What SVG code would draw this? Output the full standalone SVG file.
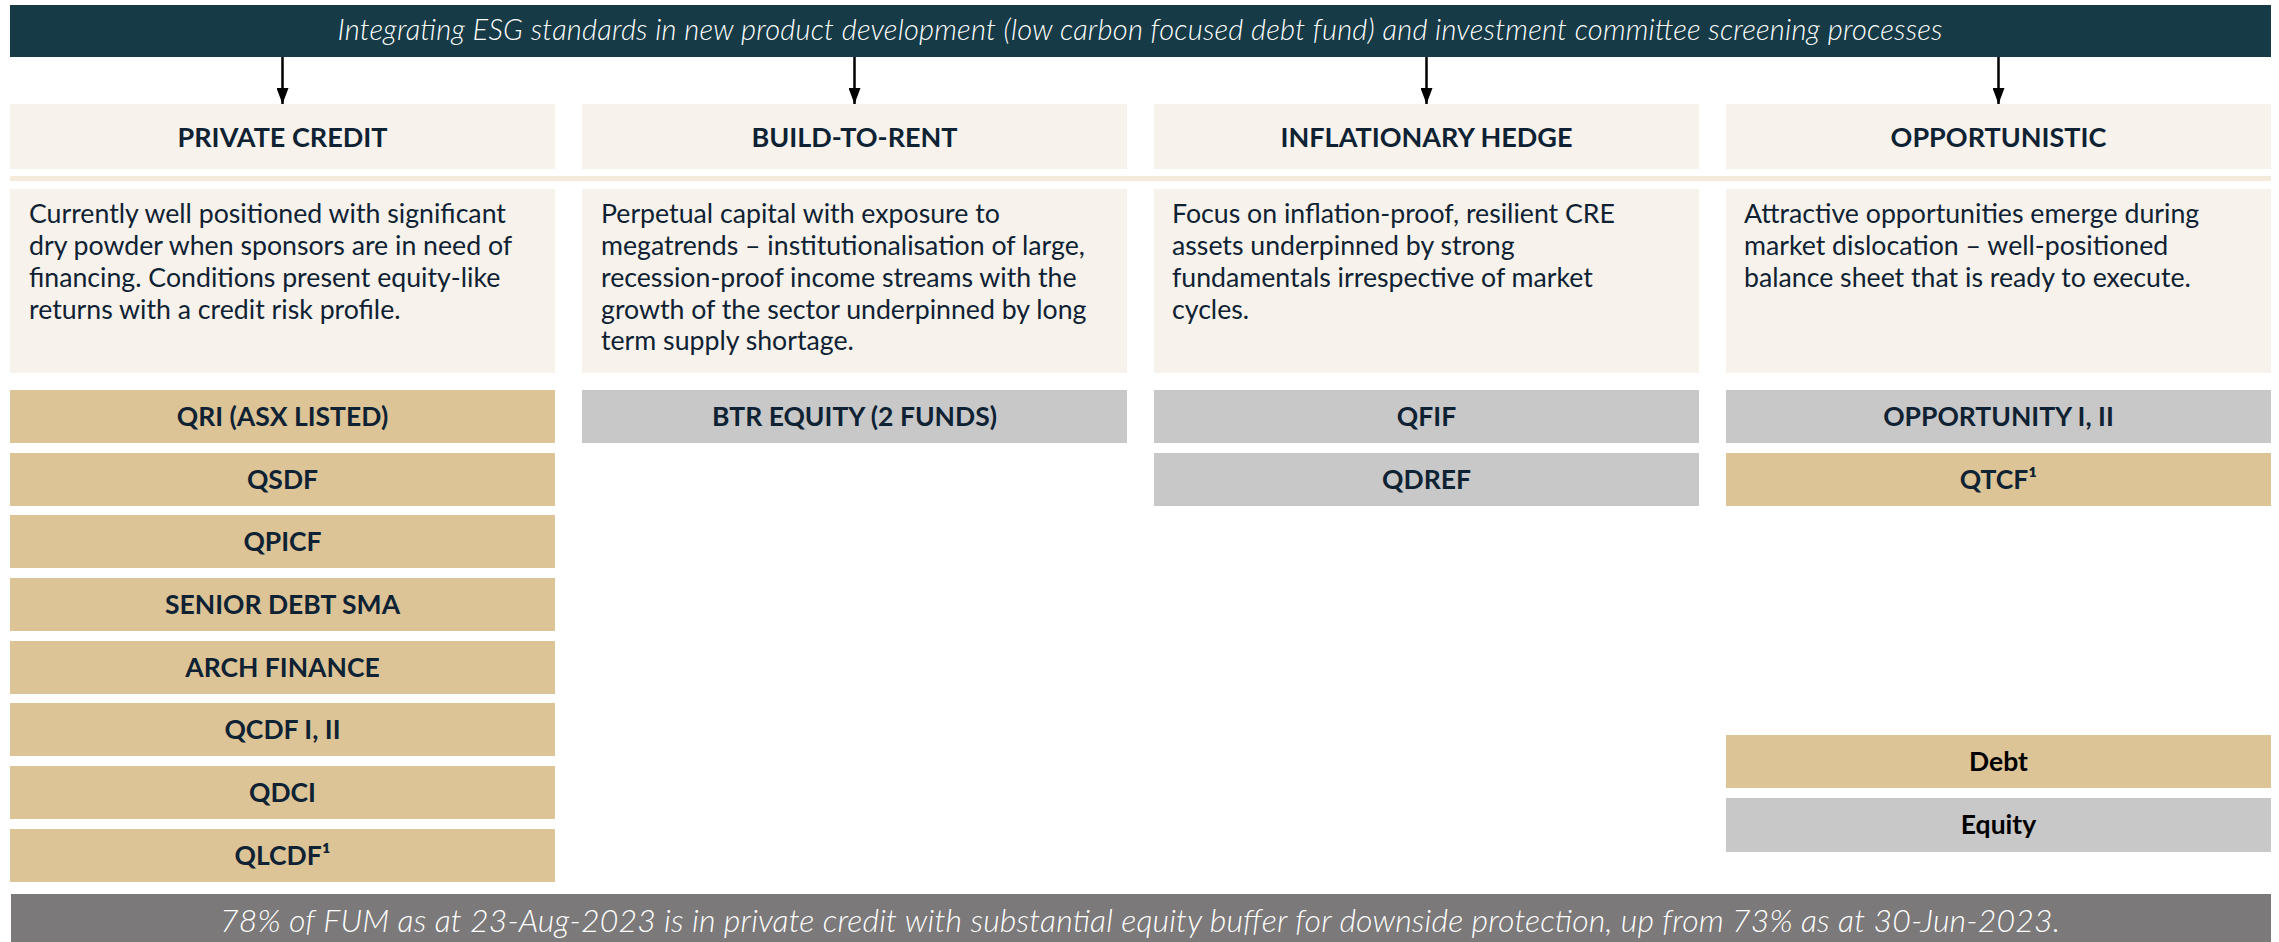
<svg xmlns="http://www.w3.org/2000/svg" width="2279" height="942" viewBox="0 0 2279 942">
<defs>
<style>
.f{font-family:Lato,"Liberation Sans",sans-serif}
.hdr{fill:#163a46}
.hdrtxt{font-style:italic;font-weight:300;font-size:29px;fill:#ffffff;text-anchor:middle}
.cap{fill:#f7f2ec}
.captxt{font-weight:700;font-size:27px;fill:#0e2233;text-anchor:middle}
.desctxt{font-size:26.7px;fill:#0e2233}
.debt{fill:#dcc497}
.eq{fill:#c8c8c8}
.fund{font-weight:700;font-size:26.5px;fill:#0e2233;text-anchor:middle}
.leg{font-weight:700;font-size:26.5px;fill:#000000;text-anchor:middle}
.foot{fill:#7b797a}
.foottxt{font-style:italic;font-weight:300;font-size:32px;fill:#ffffff;text-anchor:middle}
.conn{stroke:#000000;stroke-width:2.5;fill:none;marker-end:url(#ah)}
</style>
<marker id="ah" viewBox="0 0 16 12" refX="16" refY="6" markerWidth="16" markerHeight="12" markerUnits="userSpaceOnUse" orient="auto">
<path d="M0,0 L16,6 L0,12 z" fill="#000000"/>
</marker>
</defs>
<rect width="2279" height="942" fill="#ffffff"/>

<g id="header">
<rect class="hdr" x="10" y="5" width="2261" height="52"/>
<text class="f hdrtxt" x="1140" y="40" textLength="1605" lengthAdjust="spacing">Integrating ESG standards in new product development (low carbon focused debt fund) and investment committee screening processes</text>
</g>

<g id="connectors">
<line class="conn" x1="282.5" y1="57" x2="282.5" y2="104"/>
<line class="conn" x1="854.5" y1="57" x2="854.5" y2="104"/>
<line class="conn" x1="1426.5" y1="57" x2="1426.5" y2="104"/>
<line class="conn" x1="1998.5" y1="57" x2="1998.5" y2="104"/>
</g>

<g id="separator">
<rect x="10" y="176" width="2261" height="5" fill="#f3ead9"/>
</g>

<g id="col-private-credit">
<rect class="cap" x="10" y="104" width="545" height="65"/>
<text class="f captxt" x="282.5" y="147">PRIVATE CREDIT</text>
</g>
<g id="col-build-to-rent">
<rect class="cap" x="582" y="104" width="545" height="65"/>
<text class="f captxt" x="854.5" y="147">BUILD-TO-RENT</text>
</g>
<g id="col-inflationary-hedge">
<rect class="cap" x="1154" y="104" width="545" height="65"/>
<text class="f captxt" x="1426.5" y="147">INFLATIONARY HEDGE</text>
</g>
<g id="col-opportunistic">
<rect class="cap" x="1726" y="104" width="545" height="65"/>
<text class="f captxt" x="1998.5" y="147">OPPORTUNISTIC</text>
</g>

<g id="desc-private-credit">
<rect class="cap" x="10" y="189" width="545" height="184"/>
<text class="f desctxt">
<tspan x="29" y="223">Currently well positioned with significant</tspan>
<tspan x="29" y="255">dry powder when sponsors are in need of</tspan>
<tspan x="29" y="287">financing. Conditions present equity-like</tspan>
<tspan x="29" y="318.5">returns with a credit risk profile.</tspan>
</text>
</g>
<g id="desc-build-to-rent">
<rect class="cap" x="582" y="189" width="545" height="184"/>
<text class="f desctxt">
<tspan x="601" y="223">Perpetual capital with exposure to</tspan>
<tspan x="601" y="255">megatrends – institutionalisation of large,</tspan>
<tspan x="601" y="287">recession-proof income streams with the</tspan>
<tspan x="601" y="318.5">growth of the sector underpinned by long</tspan>
<tspan x="601" y="350">term supply shortage.</tspan>
</text>
</g>
<g id="desc-inflationary-hedge">
<rect class="cap" x="1154" y="189" width="545" height="184"/>
<text class="f desctxt">
<tspan x="1172" y="223">Focus on inflation-proof, resilient CRE</tspan>
<tspan x="1172" y="255">assets underpinned by strong</tspan>
<tspan x="1172" y="287">fundamentals irrespective of market</tspan>
<tspan x="1172" y="318.5">cycles.</tspan>
</text>
</g>
<g id="desc-opportunistic">
<rect class="cap" x="1726" y="189" width="545" height="184"/>
<text class="f desctxt">
<tspan x="1744" y="223">Attractive opportunities emerge during</tspan>
<tspan x="1744" y="255">market dislocation – well-positioned</tspan>
<tspan x="1744" y="287">balance sheet that is ready to execute.</tspan>
</text>
</g>

<g id="fund-qri"><rect class="debt" x="10" y="390" width="545" height="53"/><text class="f fund" x="282.5" y="426">QRI (ASX LISTED)</text></g>
<g id="fund-qsdf"><rect class="debt" x="10" y="453" width="545" height="53"/><text class="f fund" x="282.5" y="489">QSDF</text></g>
<g id="fund-qpicf"><rect class="debt" x="10" y="515" width="545" height="53"/><text class="f fund" x="282.5" y="551">QPICF</text></g>
<g id="fund-senior-debt-sma"><rect class="debt" x="10" y="578" width="545" height="53"/><text class="f fund" x="282.5" y="614">SENIOR DEBT SMA</text></g>
<g id="fund-arch-finance"><rect class="debt" x="10" y="641" width="545" height="53"/><text class="f fund" x="282.5" y="677">ARCH FINANCE</text></g>
<g id="fund-qcdf"><rect class="debt" x="10" y="703" width="545" height="53"/><text class="f fund" x="282.5" y="739">QCDF I, II</text></g>
<g id="fund-qdci"><rect class="debt" x="10" y="766" width="545" height="53"/><text class="f fund" x="282.5" y="802">QDCI</text></g>
<g id="fund-qlcdf"><rect class="debt" x="10" y="829" width="545" height="53"/><text class="f fund" x="282.5" y="865">QLCDF¹</text></g>

<g id="fund-btr-equity"><rect class="eq" x="582" y="390" width="545" height="53"/><text class="f fund" x="854.5" y="426">BTR EQUITY (2 FUNDS)</text></g>

<g id="fund-qfif"><rect class="eq" x="1154" y="390" width="545" height="53"/><text class="f fund" x="1426.5" y="426">QFIF</text></g>
<g id="fund-qdref"><rect class="eq" x="1154" y="453" width="545" height="53"/><text class="f fund" x="1426.5" y="489">QDREF</text></g>

<g id="fund-opportunity"><rect class="eq" x="1726" y="390" width="545" height="53"/><text class="f fund" x="1998.5" y="426">OPPORTUNITY I, II</text></g>
<g id="fund-qtcf"><rect class="debt" x="1726" y="453" width="545" height="53"/><text class="f fund" x="1998.5" y="489">QTCF¹</text></g>

<g id="legend-debt"><rect class="debt" x="1726" y="735" width="545" height="53"/><text class="f leg" x="1998.5" y="771">Debt</text></g>
<g id="legend-equity"><rect class="eq" x="1726" y="798" width="545" height="54"/><text class="f leg" x="1998.5" y="834">Equity</text></g>

<g id="footer">
<rect class="foot" x="11" y="894" width="2260" height="48"/>
<text class="f foottxt" x="1140" y="932" textLength="1840" lengthAdjust="spacing">78% of FUM as at 23-Aug-2023 is in private credit with substantial equity buffer for downside protection, up from 73% as at 30-Jun-2023.</text>
</g>
</svg>
